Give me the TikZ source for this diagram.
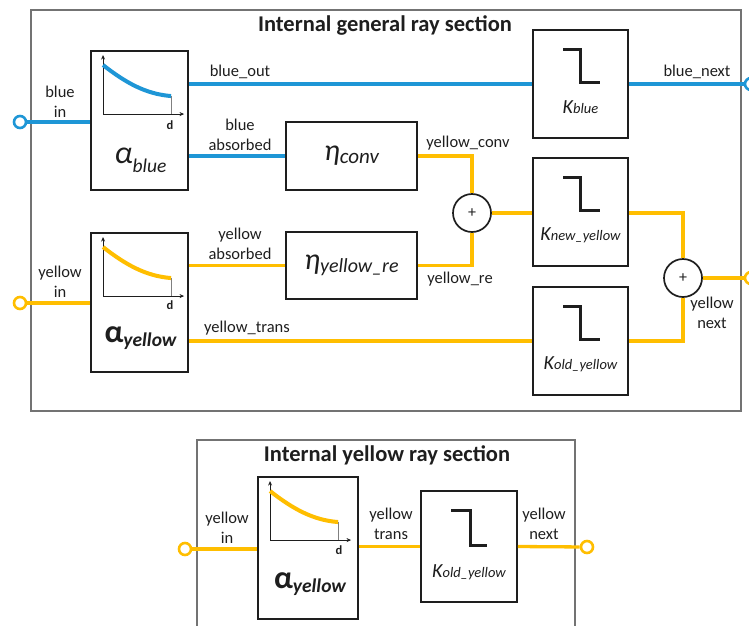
\documentclass[tikz,border=0pt]{standalone}
\usepackage{fontspec}
\setmainfont{Carlito}
\usetikzlibrary{arrows.meta}
\definecolor{rayblue}{RGB}{30,150,214}
\definecolor{rayyellow}{RGB}{255,190,0}
\definecolor{ink}{RGB}{30,30,30}
\newcommand\fs[1]{\fontsize{#1}{#1}\selectfont}

% small decay curve drawn inside an absorption block
\newcommand\decayplot[2]{%
  \begin{scope}[shift={(#1.north west)}]
    \draw[axisline] (13,64) -- (13,5);
    \draw[axisline] (13,64) -- (94,64);
    \draw[gray, line width=0.9pt] (81,46) -- (81,64);
    \draw[#2, line width=4pt] (13,15) .. controls (36,33) and (56,44) .. (81,46);
  \end{scope}}

% step symbol drawn inside a threshold block
\newcommand\stepmark[1]{%
  \draw[stepline] ([shift={(-17.5,20)}]#1.north) -- ++(17.5,0) -- ++(0,33) -- ++(19.5,0);}

\begin{document}
\begin{tikzpicture}[x=1pt,y=-1pt,
  blk/.style={draw=ink, line width=1.9pt, fill=white, inner sep=0pt},
  frame/.style={draw=black!55, line width=1.1pt},
  bray/.style={draw=rayblue, line width=3.3pt},
  yray/.style={draw=rayyellow, line width=3.3pt},
  bport/.style={circle, draw=rayblue, line width=2.6pt, fill=white, minimum size=12pt, inner sep=0pt},
  yport/.style={circle, draw=rayyellow, line width=2.6pt, fill=white, minimum size=12pt, inner sep=0pt},
  sumnode/.style={circle, draw=ink, line width=1.7pt, fill=white, minimum size=38pt, inner sep=0pt, font=\fs{16}, text=ink},
  lbl/.style={text=ink, font=\fontsize{16.5}{20.5}\selectfont, align=center, inner sep=0pt},
  ttl/.style={text=ink, font=\bfseries\fs{22.5}, inner sep=0pt},
  dlbl/.style={text=ink, font=\bfseries\fs{12.5}, inner sep=0pt},
  axisline/.style={draw=ink, line width=1pt, -{Stealth[length=4.5pt,width=4pt]}},
  stepline/.style={draw=ink, line width=3pt},
  blocktext/.style={text=ink, inner sep=0pt},
]
\useasboundingbox (0,0) rectangle (749,625);

% ---------- frames ----------
\draw[frame] (31,10) rectangle (741,411);
\draw[frame] (197,630) -- (197,440) -- (575,440) -- (575,630);
\node[ttl] (t1) at (385,25) {Internal general ray section};
\node[ttl] (t2) at (387,455) {Internal yellow ray section};

% ---------- general section: blocks ----------
\node[blk, minimum width=97pt, minimum height=139pt] (aB) at (139.5,120.5) {};
\node[blk, minimum width=97pt, minimum height=139pt] (aY) at (139.5,302.5) {};
\node[blk, minimum width=131pt, minimum height=68pt] (eC) at (351.5,156) {};
\node[blk, minimum width=131pt, minimum height=67pt] (eY) at (351.5,265.5) {};
\node[blk, minimum width=95pt, minimum height=108pt] (kB) at (580.5,84) {};
\node[blk, minimum width=95pt, minimum height=108pt] (kN) at (580.5,212) {};
\node[blk, minimum width=95pt, minimum height=108pt] (kO) at (580.5,341) {};
\node[sumnode] (s1) at (472,213) {+};
\node[sumnode] (s2) at (683,278) {+};

\node[bport] (inB) at (20,122) {};
\node[yport] (inY) at (20,303) {};
\node[bport] (outB) at (751,84) {};
\node[yport] (outY) at (751,278) {};

% block contents
\decayplot{aB}{rayblue}
\decayplot{aY}{rayyellow}
\node[dlbl] (dB) at ([shift={(80,75)}]aB.north west) {d};
\node[dlbl] (dY) at ([shift={(80,73)}]aY.north west) {d};
\node[blocktext] (aBt) at ([shift={(1,110)}]aB.north) {{\itshape\fs{32}α}\raisebox{-9pt}{\itshape\fs{19.5}blue}};
\node[blocktext] (aYt) at ([shift={(1,106)}]aY.north) {{\bfseries\fs{32}α}\raisebox{-4pt}{\bfseries\itshape\fs{19.5}yellow}};
\node[blocktext] (eCt) at (eC.center) {{\itshape\fs{30}η}\raisebox{-3pt}{\itshape\fs{21}conv}};
\node[blocktext] (eYt) at (eY.center) {{\itshape\fs{30}η}\raisebox{-3pt}{\itshape\fs{20}yellow\_re}};
\stepmark{kB}
\stepmark{kN}
\stepmark{kO}
\node[blocktext] (kBt) at ([shift={(0,78)}]kB.north) {{\itshape\fs{20}K}{\itshape\fs{14.5}blue}};
\node[blocktext] (kNt) at ([shift={(0,78)}]kN.north) {{\itshape\fs{20}K}{\itshape\fs{14.5}new\_yellow}};
\node[blocktext] (kOt) at ([shift={(0,78)}]kO.north) {{\itshape\fs{20}K}{\itshape\fs{14.5}old\_yellow}};

% ---------- general section: rays ----------
\draw[bray] (inB) -- (inB -| aB.west);
\draw[yray] (inY) -- (inY -| aY.west);
\draw[bray] (aB.east |- kB.west) -- (kB.west);
\draw[bray] (kB.east) -- (outB);
\draw[bray] (aB.east |- eC.west) -- (eC.west);
\draw[yray] (aY.east |- eY.west) -- (eY.west);
\draw[yray] (aY.east |- kO.west) -- (kO.west);
\draw[yray] (eC.east) -| (s1.north);
\draw[yray] (eY.east) -| (s1.south);
\draw[yray] (s1.east) -- (s1 -| kN.west);
\draw[yray] (kN.east |- s1) -| (s2.north);
\draw[yray] (kO.east) -| (s2.south);
\draw[yray] (s2.east) -- (outY);

% ---------- general section: labels ----------
\node[lbl] (lBin) at (60,102) {blue\\in};
\node[lbl] (lYin) at (60,282) {yellow\\in};
\node[lbl] (lBout) at (240,72) {blue\_out};
\node[lbl] (lBabs) at (240,135) {blue\\absorbed};
\node[lbl] (lYabs) at (240,244) {yellow\\absorbed};
\node[lbl] (lYtr) at (247,328) {yellow\_trans};
\node[lbl] (lYconv) at (468,143) {yellow\_conv};
\node[lbl] (lYre) at (460,279) {yellow\_re};
\node[lbl] (lBnext) at (697,72) {blue\_next};
\node[lbl] (lYnext) at (712,313) {yellow\\next};

% ---------- yellow section ----------
\node[blk, minimum width=100pt, minimum height=142pt] (aY2) at (308,548) {};
\node[blk, minimum width=96pt, minimum height=111pt] (kO2) at (469,546.5) {};
\node[yport] (inY2) at (185,549) {};
\node[yport] (outY2) at (587,547) {};
\decayplot{aY2}{rayyellow}
\node[dlbl] (dY2) at ([shift={(82,74)}]aY2.north west) {d};
\node[blocktext] (aY2t) at ([shift={(2,108)}]aY2.north) {{\bfseries\fs{32}α}\raisebox{-4pt}{\bfseries\itshape\fs{19.5}yellow}};
\draw[stepline] ([shift={(-18,20)}]kO2.north) -- ++(19,0) -- ++(0,35) -- ++(17,0);
\node[blocktext] (kO2t) at ([shift={(0,82)}]kO2.north) {{\itshape\fs{20}K}{\itshape\fs{14.5}old\_yellow}};

\draw[yray] (inY2) -- (inY2 -| aY2.west);
\draw[yray] (aY2.east |- kO2.west) -- (kO2.west);
\draw[yray] (kO2.east) -- (outY2);

\node[lbl] (lYin2) at (227,528) {yellow\\in};
\node[lbl] (lYtr2) at (391,524) {yellow\\trans};
\node[lbl] (lYnext2) at (544,524) {yellow\\next};
\end{tikzpicture}
\end{document}
